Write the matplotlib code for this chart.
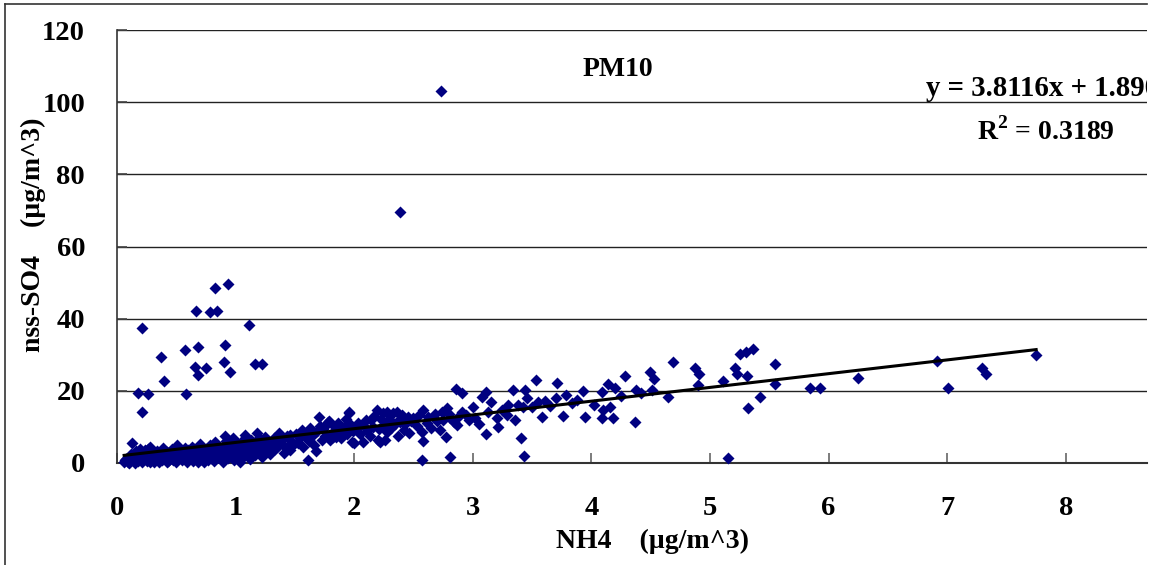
import matplotlib
matplotlib.use("Agg")
import matplotlib.pyplot as plt
from matplotlib.lines import Line2D

# NH4 (x) and nss-SO4 (y), PM10 samples
nh4 = [
    # 0.05 - 0.3
    0.06, 0.08, 0.09, 0.10, 0.11, 0.12, 0.13, 0.14, 0.15, 0.16, 0.17, 0.18, 0.19, 0.20, 0.21,
    0.22, 0.23, 0.24, 0.25, 0.26, 0.27, 0.28, 0.29, 0.30, 0.30, 0.12, 0.15, 0.18, 0.22, 0.25,
    0.28, 0.07, 0.10, 0.20, 0.26,
    # 0.3 - 0.6
    0.31, 0.32, 0.33, 0.34, 0.35, 0.36, 0.37, 0.38, 0.39, 0.40, 0.41, 0.42, 0.43, 0.44, 0.45,
    0.46, 0.47, 0.48, 0.49, 0.50, 0.51, 0.52, 0.53, 0.54, 0.55, 0.56, 0.57, 0.58, 0.59, 0.60,
    0.35, 0.40, 0.45, 0.50, 0.55, 0.42, 0.48,
    # 0.6 - 1.0
    0.61, 0.62, 0.63, 0.64, 0.65, 0.66, 0.67, 0.68, 0.69, 0.70, 0.71, 0.72, 0.73, 0.74, 0.75,
    0.76, 0.77, 0.78, 0.79, 0.80, 0.81, 0.82, 0.83, 0.84, 0.85, 0.86, 0.87, 0.88, 0.89, 0.90,
    0.91, 0.92, 0.93, 0.94, 0.95, 0.96, 0.97, 0.98, 0.99, 1.00, 0.65, 0.72, 0.78, 0.85, 0.92,
    0.97,
    # 1.0 - 1.5
    1.01, 1.02, 1.03, 1.04, 1.05, 1.06, 1.07, 1.08, 1.09, 1.10, 1.11, 1.12, 1.13, 1.14, 1.15,
    1.16, 1.17, 1.18, 1.19, 1.20, 1.21, 1.22, 1.23, 1.24, 1.25, 1.26, 1.27, 1.28, 1.29, 1.30,
    1.32, 1.33, 1.35, 1.37, 1.38, 1.40, 1.41, 1.43, 1.44, 1.46, 1.46, 1.47, 1.49,
    # 1.5 - 2.0
    1.51, 1.53, 1.54, 1.56, 1.57, 1.59, 1.60, 1.61, 1.62, 1.63, 1.65, 1.66, 1.68, 1.69, 1.70,
    1.71, 1.73, 1.74, 1.75, 1.77, 1.78, 1.79, 1.80, 1.81, 1.82, 1.84, 1.85, 1.86, 1.88, 1.89,
    1.91, 1.92, 1.93, 1.94, 1.96, 1.96, 1.97, 1.98, 1.99,
    # 2.0 - 2.5
    2.00, 2.02, 2.03, 2.05, 2.07, 2.08, 2.10, 2.11, 2.13, 2.14, 2.16, 2.17, 2.19, 2.20, 2.21,
    2.22, 2.23, 2.24, 2.25, 2.26, 2.27, 2.28, 2.28, 2.30, 2.31, 2.33, 2.34, 2.36, 2.37, 2.38,
    2.39, 2.40, 2.41, 2.42, 2.43, 2.45, 2.46, 2.48, 2.50,
    # 2.5 - 4.5
    2.53, 2.55, 2.57, 2.57, 2.58, 2.58, 2.61, 2.62, 2.65, 2.68, 2.70, 2.72, 2.74, 2.75, 2.77,
    2.78, 2.80, 2.81, 2.81, 2.84, 2.86, 2.87, 2.88, 2.91, 2.91, 2.94, 2.97, 3.00, 3.02, 3.05,
    3.08, 3.11, 3.11, 3.13, 3.15, 3.20, 3.21, 3.25, 3.29, 3.30, 3.34, 3.36, 3.38, 3.41, 3.42,
    3.43, 3.44, 3.46, 3.50, 3.53, 3.55, 3.58, 3.61, 3.65, 3.70, 3.71, 3.76, 3.79, 3.84, 3.88,
    3.93, 3.95, 4.02, 4.09, 4.09, 4.10, 4.14, 4.16, 4.18, 4.20, 4.25, 4.28, 4.37, 4.38, 4.42,
    4.49, 4.51, 4.53,
    # 4.5 and beyond
    4.65, 4.69, 4.87, 4.90, 4.91, 5.11, 5.15, 5.21, 5.23, 5.25, 5.30, 5.31, 5.32, 5.36, 5.42,
    5.55, 5.55, 5.84, 5.93, 6.25, 6.91, 7.01, 7.29, 7.33, 7.75,
    # high outliers
    2.73, 2.39, 0.94, 0.83, 0.67, 0.78, 0.84, 0.21, 1.11, 0.57, 0.68, 0.91, 0.37, 0.90, 1.16,
    1.22, 0.66, 0.75, 0.68, 0.95, 0.40, 0.18, 0.26, 0.58, 0.21,
]

so4 = [
    # 0.05 - 0.3
    0.3, 1.0, 0.2, 1.8, 0.6, 2.5, 5.5, 1.2, 0.1, 3.2, 0.8, 2.0, 4.0, 1.4, 0.3,
    2.8, 1.0, 3.6, 0.5, 1.9, 2.4, 4.4, 0.9, 1.5, 3.0, 0.8, 1.6, 0.5, 1.5, 2.2,
    0.2, 0.7, 0.1, 3.1, 3.9,
    # 0.3 - 0.6
    0.4, 2.2, 1.1, 3.4, 0.2, 1.8, 2.7, 0.7, 4.1, 1.3, 2.0, 3.0, 0.5, 1.6, 2.5,
    3.8, 0.9, 1.9, 2.9, 0.3, 5.0, 1.4, 2.3, 3.3, 0.8, 1.7, 4.2, 2.6, 0.4, 3.5,
    1.0, 2.6, 1.2, 2.0, 2.8, 0.2, 3.4,
    # 0.6 - 1.0
    1.2, 2.1, 4.5, 0.6, 2.9, 1.5, 3.7, 0.2, 2.4, 5.3, 1.0, 3.1, 0.3, 1.9, 4.0,
    2.6, 0.8, 3.4, 1.4, 4.6, 2.2, 0.5, 5.8, 3.0, 1.7, 4.2, 2.5, 1.0, 0.3, 3.6,
    7.5, 2.0, 4.9, 1.3, 3.2, 5.6, 2.7, 6.9, 0.9, 4.1, 3.9, 2.2, 5.0, 3.3, 6.2,
    4.4,
    # 1.0 - 1.5
    2.4, 5.3, 3.5, 0.3, 6.0, 1.6, 4.6, 7.8, 2.9, 5.1, 3.8, 1.1, 6.5, 4.0, 4.2,
    2.2, 5.7, 8.3, 3.3, 6.8, 4.8, 1.8, 5.4, 3.0, 7.2, 3.6, 6.0, 4.5, 2.6, 5.8,
    7.0, 3.9, 4.4, 8.3, 6.3, 5.0, 2.8, 7.4, 4.7, 3.6, 7.8, 6.1, 5.2,
    # 1.5 - 2.0
    8.0, 5.5, 6.8, 9.1, 4.4, 7.3, 8.6, 0.8, 6.0, 9.7, 7.8, 5.0, 3.3, 8.8, 12.7,
    10.2, 6.5, 9.4, 7.6, 10.8, 11.4, 11.6, 6.4, 8.3, 7.2, 9.9, 7.2, 11.0, 8.7, 6.8,
    10.0, 9.2, 12.2, 7.9, 13.9, 14.1, 10.5, 5.8, 8.9,
    # 2.0 - 2.5
    5.5, 9.6, 11.2, 8.0, 5.8, 10.3, 12.0, 9.0, 7.4, 11.8, 10.0, 13.0, 14.7, 6.4, 9.5,
    5.8, 12.3, 13.9, 10.0, 6.4, 11.3, 14.1, 8.6, 12.0, 9.8, 13.9, 10.8, 14.1, 7.6, 11.9,
    11.4, 13.2, 12.7, 9.2, 10.9, 12.7, 8.3, 11.6, 12.5,
    # 2.5 - 4.5
    10.2, 13.4, 8.6, 0.8, 14.7, 6.1, 11.1, 12.8, 9.6, 13.5, 11.7, 9.1, 14.1, 12.0, 7.2,
    15.2, 13.7, 12.5, 1.7, 11.3, 20.5, 10.5, 12.9, 19.4, 14.1, 13.2, 11.8, 15.5, 12.4, 10.8,
    18.3, 19.7, 8.0, 14.1, 16.8, 12.5, 10.0, 14.6, 13.3, 16.1, 20.2, 11.9, 16.2, 6.9, 15.5,
    2.0, 20.2, 18.0, 15.4, 23.0, 16.9, 12.7, 17.2, 15.8, 18.1, 22.2, 13.0, 18.8, 16.6, 17.5,
    19.9, 12.7, 16.0, 19.8, 12.5, 14.7, 21.8, 15.5, 12.5, 20.7, 18.7, 24.1, 11.4, 20.2, 19.3,
    25.2, 20.2, 23.3,
    # 4.5 and beyond
    18.3, 28.0, 26.4, 21.6, 24.6, 22.7, 1.4, 26.3, 24.6, 30.2, 30.7, 24.0, 15.2, 31.6, 18.2,
    27.5, 21.8, 20.7, 20.7, 23.5, 28.3, 20.7, 26.3, 24.7, 29.8,
    # high outliers
    103.0, 69.5, 49.6, 48.4, 42.0, 41.8, 42.0, 37.4, 38.2, 31.3, 32.2, 32.6, 29.3, 28.0, 27.4,
    27.4, 26.7, 26.2, 24.3, 25.2, 22.8, 19.5, 19.1, 19.1, 14.0,
]

# linear trend given on the chart
slope = 3.8116
intercept = 1.890

plt.rcParams['font.family'] = ['Liberation Serif', 'DejaVu Serif']
plt.rcParams['font.weight'] = 'bold'
plt.rcParams['mathtext.fontset'] = 'custom'
plt.rcParams['mathtext.rm'] = 'Liberation Serif:bold'
plt.rcParams['mathtext.bf'] = 'Liberation Serif:bold'

W, H = 1159, 565
fig = plt.figure(figsize=(W / 100, H / 100), dpi=100)
ax = fig.add_axes([117 / W, 1 - 463 / H, (1147 - 117) / W, (463 - 30) / H])

ax.plot(nh4, so4, 'D', color='#000080', ms=6.6, mec='none', zorder=3, clip_on=False)

x0, x1 = min(nh4), max(nh4)
ax.plot([x0, x1], [slope * x0 + intercept, slope * x1 + intercept], '-', color='black',
        lw=2.2, zorder=4)

ax.set_xlim(0, (1147 - 117) / 118.6)
ax.set_ylim(0, 120)
ax.set_xticks(range(0, 9))
ax.set_yticks(range(0, 121, 20))
ax.yaxis.grid(True, color='#222222', lw=1.0)
ax.set_axisbelow(True)

for s in ['top', 'right']:
    ax.spines[s].set_visible(False)
ax.spines['left'].set_color('#333333')
ax.spines['bottom'].set_color('#333333')
ax.spines['left'].set_linewidth(1.2)
ax.spines['bottom'].set_linewidth(1.5)

ax.tick_params(axis='x', direction='in', length=7, width=1.2, color='#666666', pad=24,
               labelsize=20.5)
ax.tick_params(axis='y', direction='in', length=7, width=1.2, color='#444444', pad=23,
               labelsize=20.5)
for lab in ax.get_xticklabels() + ax.get_yticklabels():
    lab.set_fontweight('bold')

# axis titles placed where the reference has them
fig.text(653 / W, 1 - 541 / H, 'NH4    (\u00b5g/m^3)', fontsize=20, fontweight='bold',
         ha='center', va='center')
fig.text(33 / W, 1 - 235 / H, 'nss-SO4    (\u00b5g/m^3)', fontsize=20, fontweight='bold',
         ha='center', va='center', rotation=90)

ax.text(4.22, 109, 'PM10', fontsize=20, fontweight='bold', ha='center', va='center')
ax.text(6.82, 103.8, 'y = 3.8116x + 1.890', fontsize=20.8, fontweight='bold', ha='left',
        va='center', clip_on=True)
ax.text(7.83, 92, r'R$^{\mathbf{2}}$ = 0.3189', fontsize=20, fontweight='bold', ha='center',
        va='center')

# outer frame of the pasted chart (left and top edges)
fig.add_artist(Line2D([5 / W, 5 / W], [0, 1 - 4 / H], color='#333333', lw=1.2))
fig.add_artist(Line2D([5 / W, 1147 / W], [1 - 4 / H, 1 - 4 / H], color='#333333', lw=1.2))

fig.savefig('out.png', dpi=100)
